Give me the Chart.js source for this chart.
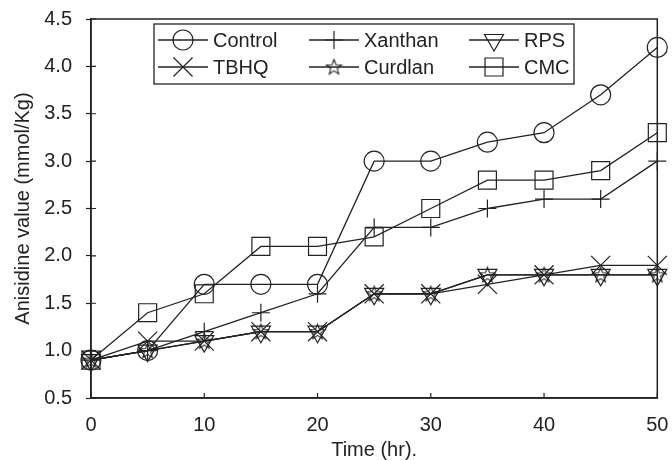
<!DOCTYPE html>
<html>
<head>
<meta charset="utf-8">
<script src="https://cdn.jsdelivr.net/npm/chart.js@4.4.0/dist/chart.umd.min.js"></script>
<style>
  html, body { margin: 0; padding: 0; background: #fff; }
  #wrap { width: 672px; height: 460px; }
</style>
</head>
<body>
<div id="wrap"><canvas id="chart"></canvas></div>
<script>
// Time points (hr)
const hours = [0, 5, 10, 15, 20, 25, 30, 35, 40, 45, 50];

// Anisidine value (mmol/Kg) per treatment
const control = [0.9, 1.0, 1.7, 1.7, 1.7, 3.0, 3.0, 3.2, 3.3, 3.7, 4.2];
const xanthan = [0.9, 1.0, 1.2, 1.4, 1.6, 2.3, 2.3, 2.5, 2.6, 2.6, 3.0];
const rps     = [0.9, 1.0, 1.1, 1.2, 1.2, 1.6, 1.6, 1.8, 1.8, 1.8, 1.8];
const tbhq    = [0.9, 1.1, 1.1, 1.2, 1.2, 1.6, 1.6, 1.7, 1.8, 1.9, 1.9];
const curdlan = [0.9, 1.0, 1.1, 1.2, 1.2, 1.6, 1.6, 1.8, 1.8, 1.8, 1.8];
const cmc     = [0.9, 1.4, 1.6, 2.1, 2.1, 2.2, 2.5, 2.8, 2.8, 2.9, 3.3];

const seriesNames = ['Control', 'Xanthan', 'RPS', 'TBHQ', 'Curdlan', 'CMC'];

const INK = '#222';
const FONT = "'Liberation Sans', Arial, sans-serif";

// five-pointed outline star, Chart.js has no such pointStyle
function makeStar(size) {
  const c = document.createElement('canvas');
  c.width = size; c.height = size;
  const g = c.getContext('2d');
  const cx = size / 2, cy = size / 2 + 0.5;
  const ro = size / 2 - 1.5, ri = ro * 0.42;
  g.beginPath();
  for (let i = 0; i < 10; i++) {
    const r = i % 2 ? ri : ro;
    const a = -Math.PI / 2 + i * Math.PI / 5;
    const px = cx + r * Math.cos(a), py = cy + r * Math.sin(a);
    if (i === 0) g.moveTo(px, py); else g.lineTo(px, py);
  }
  g.closePath();
  g.strokeStyle = INK;
  g.lineWidth = 1.1;
  g.stroke();
  return c;
}
const starImg = makeStar(19);

function toPoints(vals) {
  return vals.map((v, i) => ({ x: hours[i], y: v }));
}

function series(label, vals, style, radius, rotation) {
  return {
    label: label,
    data: toPoints(vals),
    borderColor: INK,
    borderWidth: 1.3,
    pointStyle: style,
    pointRadius: radius,
    pointRotation: rotation || 0,
    pointBorderColor: INK,
    pointBackgroundColor: 'rgba(0,0,0,0)',
    pointBorderWidth: 1.2,
    fill: false,
    clip: false,
    tension: 0
  };
}

// box around plot + ticks that cross the axes
const framePlugin = {
  id: 'frame',
  afterDraw(chart) {
    const { ctx, chartArea: a, scales } = chart;
    ctx.save();
    ctx.strokeStyle = INK;
    ctx.lineWidth = 1.5;
    ctx.strokeRect(a.left, a.top, a.right - a.left, a.bottom - a.top);
    ctx.lineWidth = 1.2;
    ctx.beginPath();
    scales.x.ticks.forEach(t => {
      const px = scales.x.getPixelForValue(t.value);
      ctx.moveTo(px, a.bottom);
      ctx.lineTo(px, a.bottom - 5);
    });
    scales.y.ticks.forEach(t => {
      const py = scales.y.getPixelForValue(t.value);
      ctx.moveTo(a.left, py);
      ctx.lineTo(a.left + 5, py);
    });
    ctx.stroke();
    ctx.restore();
  }
};

// legend box inside the plot, 3 columns x 2 rows
const legendPlugin = {
  id: 'boxLegend',
  afterDatasetsDraw(chart) {
    const ctx = chart.ctx;
    const box = { x: 154, y: 24, w: 420, h: 60 };
    const cols = [158, 309, 469];
    const rows = [40, 67];
    ctx.save();
    ctx.fillStyle = '#fff';
    ctx.fillRect(box.x, box.y, box.w, box.h);
    ctx.strokeStyle = INK;
    ctx.lineWidth = 1.3;
    ctx.strokeRect(box.x, box.y, box.w, box.h);
    ctx.font = '20px ' + FONT;
    ctx.textBaseline = 'middle';
    chart.data.datasets.forEach((ds, i) => {
      const x = cols[i % 3], y = rows[Math.floor(i / 3)];
      ctx.strokeStyle = INK;
      ctx.lineWidth = 1.3;
      ctx.beginPath();
      ctx.moveTo(x, y);
      ctx.lineTo(x + 50, y);
      ctx.stroke();
      ctx.fillStyle = 'rgba(0,0,0,0)';
      ctx.lineWidth = 1.2;
      Chart.helpers.drawPoint(ctx, {
        pointStyle: ds.pointStyle,
        rotation: ds.pointRotation,
        radius: ds.pointRadius,
        borderWidth: 1.2
      }, x + 25, y);
      ctx.fillStyle = INK;
      ctx.fillText(ds.label, x + 55, y + 1);
    });
    ctx.restore();
  }
};

new Chart(document.getElementById('chart'), {
  type: 'line',
  data: {
    datasets: [
      series(seriesNames[0], control, 'circle', 10),
      series(seriesNames[1], xanthan, 'cross', 9),
      series(seriesNames[2], rps, 'triangle', 11, 180),
      series(seriesNames[3], tbhq, 'crossRot', 13.5),
      series(seriesNames[4], curdlan, starImg, 9),
      series(seriesNames[5], cmc, 'rect', 12.7)
    ]
  },
  options: {
    responsive: true,
    maintainAspectRatio: false,
    animation: false,
    events: [],
    layout: { padding: { top: 19, right: 12, left: 0, bottom: 0 } },
    plugins: {
      legend: { display: false },
      tooltip: { enabled: false }
    },
    scales: {
      x: {
        type: 'linear',
        min: 0,
        max: 50,
        afterFit(scale) {
          scale.height = 62;
          scale.paddingLeft = 0;
          scale.paddingRight = 0;
        },
        ticks: { stepSize: 10, color: INK, padding: 10, font: { family: FONT, size: 20 } },
        grid: { display: false, drawOnChartArea: false, drawTicks: true, tickLength: 5, tickColor: INK, tickWidth: 1.2 },
        border: { display: true, color: INK, width: 1.5 },
        title: {
          display: true,
          text: 'Time (hr).',
          color: INK,
          padding: { top: 0, bottom: 0 },
          font: { family: FONT, size: 20, lineHeight: 1.0 }
        }
      },
      y: {
        min: 0.5,
        max: 4.5,
        afterFit(scale) {
          scale.width = 91;
          scale.paddingTop = 0;
          scale.paddingBottom = 0;
        },
        ticks: {
          stepSize: 0.5,
          color: INK,
          padding: 14,
          font: { family: FONT, size: 20 },
          callback: v => v.toFixed(1)
        },
        grid: { display: true, drawOnChartArea: false, drawTicks: true, tickLength: 5, tickColor: INK, tickWidth: 1.2 },
        border: { display: true, color: INK, width: 1.5 },
        title: {
          display: true,
          text: 'Anisidine value (mmol/Kg)',
          color: INK,
          padding: { top: 11, bottom: 0 },
          font: { family: FONT, size: 20, lineHeight: 1.2 }
        }
      }
    }
  },
  plugins: [framePlugin, legendPlugin]
});
</script>
</body>
</html>
